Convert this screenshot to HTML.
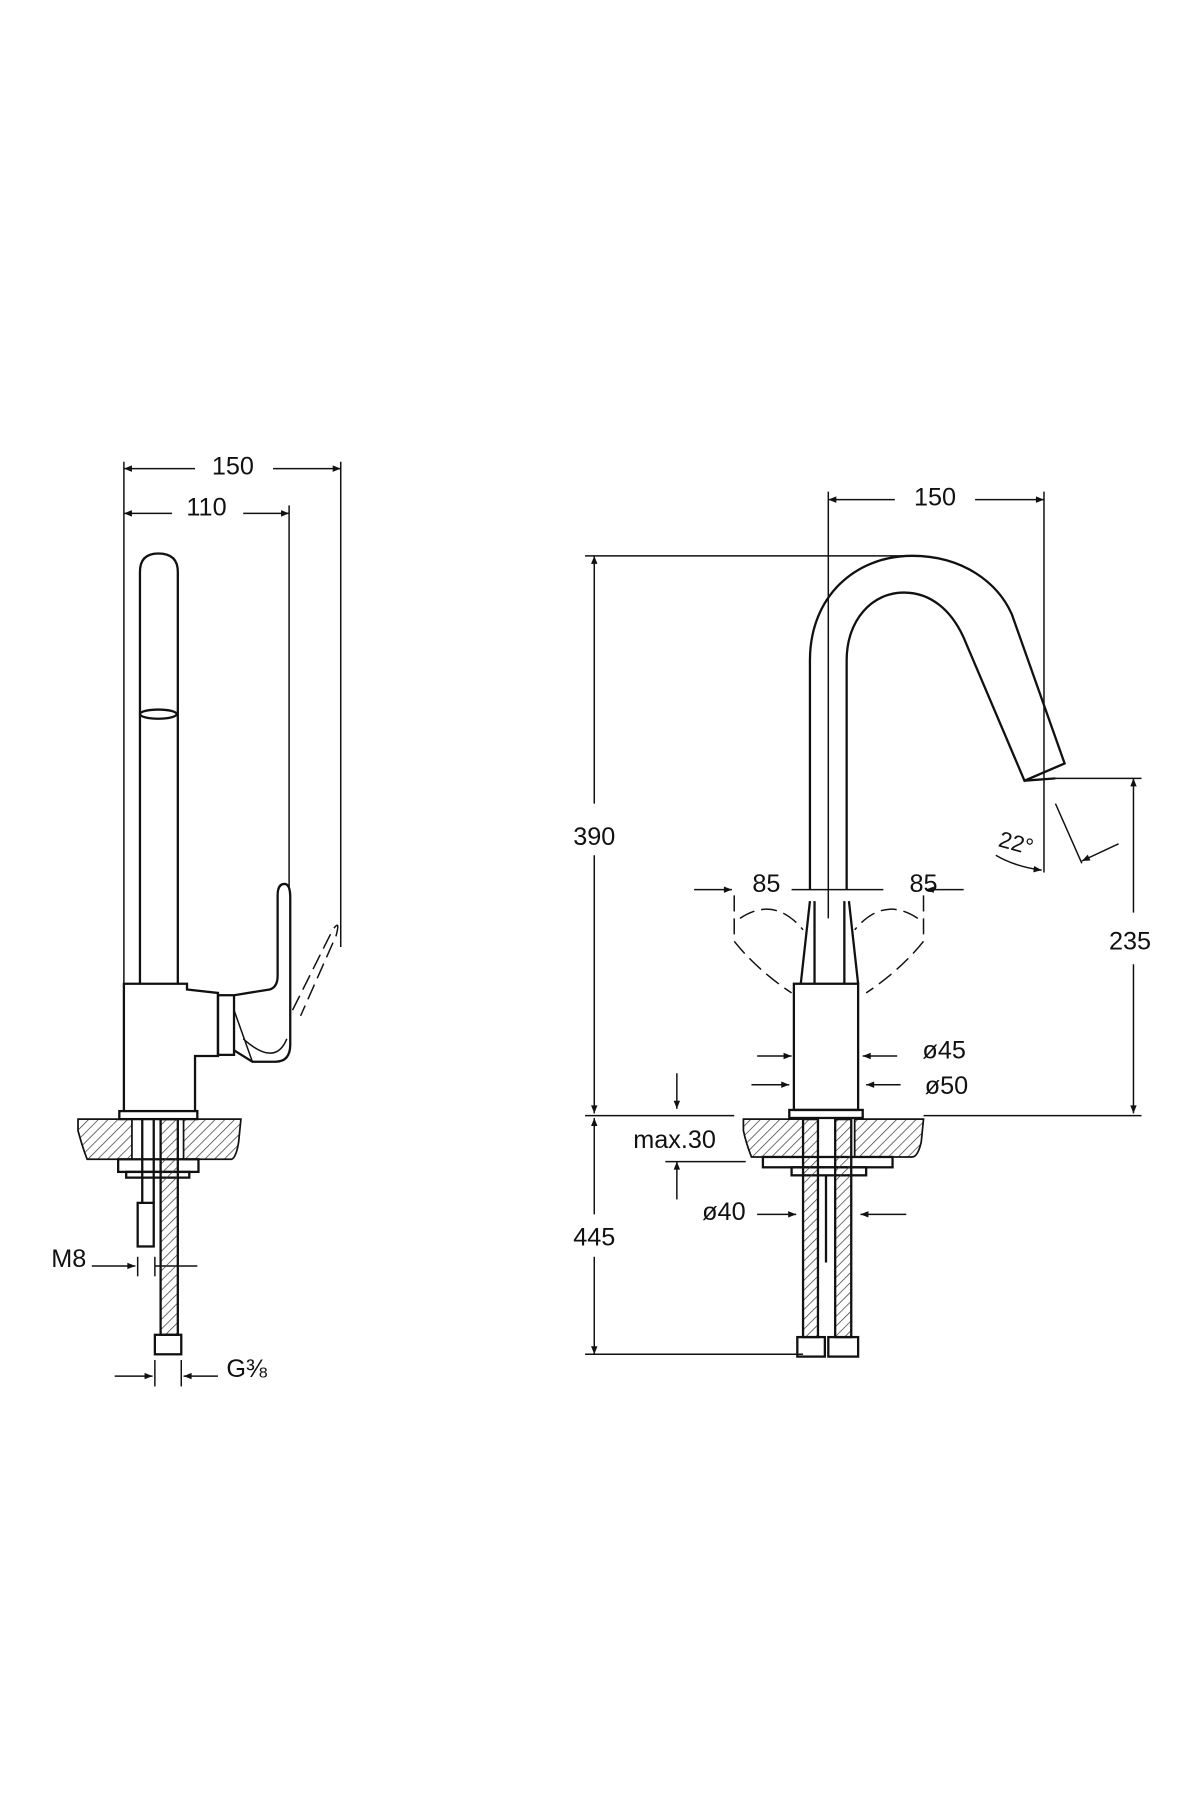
<!DOCTYPE html>
<html><head><meta charset="utf-8"><style>html,body{margin:0;padding:0;background:#fff}svg{display:block}</style></head>
<body>
<svg width="1200" height="1800" viewBox="0 0 1046 1568" xmlns="http://www.w3.org/2000/svg">
<defs>
<pattern id="h" width="6" height="6" patternUnits="userSpaceOnUse" patternTransform="rotate(45)"><line x1="0" y1="0" x2="0" y2="6" stroke="#333" stroke-width="1.2"/></pattern>
<marker id="a" viewBox="0 0 10 10" refX="10" refY="5" markerWidth="12" markerHeight="7" orient="auto-start-reverse" markerUnits="userSpaceOnUse"><path d="M0,1 L10,5 L0,9z" fill="#111"/></marker>
</defs>
<g font-family="Liberation Sans, sans-serif" font-size="22" fill="#111" text-anchor="middle">
<text x="203" y="413">150</text>
<text x="180" y="449">110</text>
<text x="815" y="440">150</text>
<text x="518" y="736">390</text>
<text x="518" y="1085">445</text>
<text x="985" y="827">235</text>
<text x="668" y="777">85</text>
<text x="805" y="777">85</text>
<text x="823" y="922">ø45</text>
<text x="825" y="953">ø50</text>
<text x="588" y="1000">max.30</text>
<text x="631" y="1063">ø40</text>
<text x="60" y="1104">M8</text>
<text x="215" y="1200">G⅜</text>
<text x="884" y="741" transform="rotate(15 884 741)" font-size="20">22°</text>
</g>
<g stroke="#111" stroke-width="1.3" fill="none">
<line x1="108" y1="402" x2="108" y2="860"/><line x1="297" y1="402" x2="297" y2="825"/><line x1="252" y1="440" x2="252" y2="775"/>
<line x1="170" y1="408" x2="108" y2="408" marker-end="url(#a)"/><line x1="238" y1="408" x2="297" y2="408" marker-end="url(#a)"/>
<line x1="150" y1="447" x2="108" y2="447" marker-end="url(#a)"/><line x1="212" y1="447" x2="252" y2="447" marker-end="url(#a)"/>
<line x1="722" y1="428" x2="722" y2="800"/><line x1="910" y1="428" x2="910" y2="760"/>
<line x1="780" y1="435" x2="722" y2="435" marker-end="url(#a)"/><line x1="850" y1="435" x2="910" y2="435" marker-end="url(#a)"/>
<line x1="510" y1="484" x2="790" y2="484"/>
<line x1="518" y1="700" x2="518" y2="484" marker-end="url(#a)"/><line x1="518" y1="745" x2="518" y2="970" marker-end="url(#a)"/>
<line x1="510" y1="972" x2="640" y2="972"/><line x1="805" y1="972" x2="995" y2="972"/>
<line x1="518" y1="1058" x2="518" y2="974" marker-end="url(#a)"/><line x1="518" y1="1095" x2="518" y2="1180" marker-end="url(#a)"/>
<line x1="510" y1="1180" x2="700" y2="1180"/>
<line x1="920" y1="678" x2="995" y2="678"/>
<line x1="988" y1="795" x2="988" y2="678" marker-end="url(#a)"/><line x1="988" y1="840" x2="988" y2="970" marker-end="url(#a)"/>
<line x1="920" y1="700" x2="943" y2="752"/>
<line x1="975" y1="735" x2="943" y2="750" marker-end="url(#a)"/>
<path d="M868,745 Q885,755 908,758" marker-end="url(#a)"/>
<line x1="605" y1="775" x2="638" y2="775" marker-end="url(#a)"/><line x1="840" y1="775" x2="807" y2="775" marker-end="url(#a)"/>
<line x1="690" y1="775" x2="770" y2="775"/>
<line x1="660" y1="920" x2="690" y2="920" marker-end="url(#a)"/><line x1="782" y1="920" x2="752" y2="920" marker-end="url(#a)"/>
<line x1="655" y1="945" x2="688" y2="945" marker-end="url(#a)"/><line x1="785" y1="945" x2="755" y2="945" marker-end="url(#a)"/>
<line x1="590" y1="935" x2="590" y2="966" marker-end="url(#a)"/><line x1="590" y1="1045" x2="590" y2="1012" marker-end="url(#a)"/>
<line x1="580" y1="1012" x2="650" y2="1012"/>
<line x1="660" y1="1058" x2="694" y2="1058" marker-end="url(#a)"/><line x1="790" y1="1058" x2="750" y2="1058" marker-end="url(#a)"/>
<line x1="80" y1="1103" x2="118" y2="1103" marker-end="url(#a)"/><line x1="120" y1="1095" x2="120" y2="1112"/><line x1="135" y1="1095" x2="135" y2="1112"/><line x1="135" y1="1103" x2="172" y2="1103"/>
<line x1="100" y1="1199" x2="133" y2="1199" marker-end="url(#a)"/><line x1="190" y1="1199" x2="160" y2="1199" marker-end="url(#a)"/>
<line x1="135" y1="1185" x2="135" y2="1208"/><line x1="158" y1="1185" x2="158" y2="1208"/>
</g>
<g stroke="#111" stroke-width="2" fill="none">
<path d="M122,857 L122,498 Q122,482 138,482 Q155,482 155,498 L155,857"/>
<ellipse cx="138" cy="622" rx="16" ry="4"/>
<path d="M108,968 L108,857 L163,857 L163,862 L190,865 L190,920 L170,920 L170,968"/>
<rect x="190" y="867" width="14" height="52"/>
<path d="M204,867 L235,862 Q242,860 242,850 L242,780 Q242,770 248,770 Q253,770 253,782 L253,910 Q253,925 240,925 L220,925 L204,915"/>
<path d="M220,925 L204,880" stroke-width="1.3"/>
<path d="M255,880 L290,810 Q297,800 293,815 L262,885" stroke-width="1.3" stroke-dasharray="14 6"/>
<path d="M212,905 Q240,930 250,905" stroke-width="1.3"/>
<rect x="104" y="968" width="68" height="7"/>
<path d="M68,975 L115,975 L115,1010 L76,1010 Q72,1000 68,985Z M160,975 L210,975 L208,995 Q206,1008 202,1010 L160,1010Z" fill="url(#h)" stroke-width="1.5"/>
<rect x="103" y="1010" width="70" height="11"/>
<rect x="110" y="1021" width="55" height="5"/>
<line x1="124" y1="975" x2="124" y2="1048"/><line x1="134" y1="975" x2="134" y2="1048"/>
<rect x="120" y="1048" width="14" height="38"/>
<rect x="140" y="975" width="15" height="188" fill="url(#h)"/>
<rect x="135" y="1163" width="23" height="17"/>
<path d="M706,775 L706,575 C706,520 745,484 795,484 C840,484 870,508 882,535 L928,665 L893,680 L842,560 C830,530 810,516 788,516 C760,516 738,540 738,575 L738,775"/>
<line x1="893" y1="680" x2="920" y2="678"/>
<path d="M706,785 L698,857 M710,785 L710,857 M736,785 L736,857 M740,785 L748,857"/>
<rect x="692" y="857" width="56" height="110"/>
<rect x="688" y="967" width="64" height="7"/>
<path d="M648,975 L700,975 L700,1008 L655,1008 Q650,995 648,985Z M745,975 L805,975 L803,995 Q800,1008 795,1008 L745,1008Z" fill="url(#h)" stroke-width="1.5"/>
<rect x="665" y="1008" width="113" height="9"/>
<rect x="690" y="1017" width="65" height="7"/>
<rect x="700" y="975" width="13" height="190" fill="url(#h)"/>
<rect x="728" y="975" width="14" height="190" fill="url(#h)"/>
<line x1="720" y1="1024" x2="720" y2="1100"/>
<rect x="695" y="1165" width="24" height="17"/><rect x="722" y="1165" width="26" height="17"/>
<g stroke-width="1.3" stroke-dasharray="14 6">
<path d="M640,780 L640,820 Q660,845 690,865"/><path d="M805,780 L805,820 Q785,845 755,865"/>
<path d="M645,800 Q675,780 700,810"/><path d="M800,800 Q770,780 745,810"/>
</g>
</g>
</svg>
</body></html>
